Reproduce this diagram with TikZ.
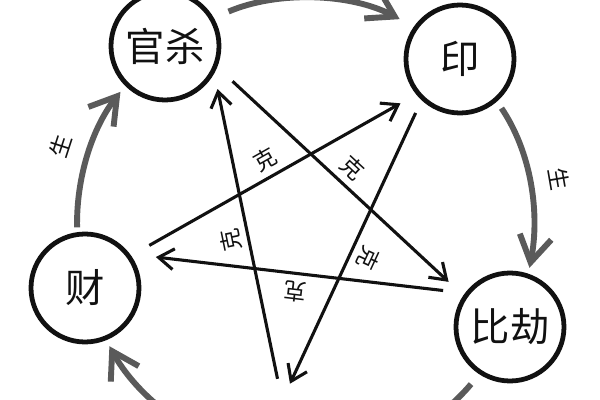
\documentclass[tikz,border=0pt]{standalone}
\usepackage{fontspec}
\usepackage{xcolor}
\usetikzlibrary{arrows.meta}
\newfontfamily\cjk{Noto Sans CJK SC}
\definecolor{ink}{HTML}{111111}
\definecolor{arcGray}{HTML}{5A5A5A}
\tikzset{
  element/.style={
    circle,
    draw=ink,
    line width=3.4pt,
    minimum size=27mm,
    inner sep=0pt,
    text=ink,
    font=\cjk\fontsize{28}{30}\selectfont
  },
  ke edge/.style={
    -{Straight Barb[length=3.8mm,width=5.2mm]},
    draw=ink,
    line width=2.2pt
  },
  sheng edge/.style={
    -{Straight Barb[length=6.5mm,width=8mm]},
    draw=arcGray,
    line width=4.2pt,
    looseness=0.9
  },
  ke label/.style={
    midway,
    sloped,
    allow upside down,
    above=1pt,
    text=ink,
    font=\cjk\fontsize{16}{16}\selectfont
  },
  sheng label/.style={
    midway,
    sloped,
    above=3mm,
    text=ink,
    font=\cjk\fontsize{16}{16}\selectfont
  }
}

\begin{document}
\begin{tikzpicture}[x=0.25mm,y=0.25mm]
  \useasboundingbox (0,0) rectangle (600,400);

  \node[element] (guansha) at (165,354) {官杀};
  \node[element] (yin) at (460,341) {印};
  \node[element] (bijie) at (510,73) {比劫};
  \node[element] (cai) at (85,112) {财};
  \node[element] (bottom) at (286,-57) {};

  \draw[sheng edge,shorten <=1.2mm,shorten >=1.9mm] (cai.98) to[out=91,in=232]
    node[sheng label] {生} (guansha.225);
  \draw[sheng edge,shorten <=4mm,shorten >=4mm] (guansha.30) to[out=23,in=152] (yin.145);
  \draw[sheng edge,shorten <=2mm,shorten >=1.5mm] (yin.-49) to[out=-56,in=79]
    node[sheng label] {生} (bijie.71);
  \draw[sheng edge,shorten <=3.2mm,shorten >=3mm] (bijie.-123) to[out=-130,in=9] (bottom.2);
  \draw[sheng edge,shorten <=3mm,shorten >=1.7mm] (bottom.168) to[out=161,in=-61] (cai.-68);

  \draw[ke edge,shorten <=5.2mm,shorten >=4.5mm] (cai.35) -- node[ke label] {克} (yin.219);
  \draw[ke edge,shorten <=5.5mm,shorten >=6.5mm] (bijie.143) -- node[ke label] {克} (cai.37);
  \draw[ke edge,shorten <=3.5mm,shorten >=4.7mm] (yin.227) -- node[ke label] {克} (bottom.94);
  \draw[ke edge,shorten <=5.6mm,shorten >=4mm] (bottom.94) -- node[ke label] {克} (guansha.-29);
  \draw[ke edge,shorten <=5.2mm,shorten >=5mm] (guansha.-22) -- node[ke label] {克} (bijie.146);
\end{tikzpicture}
\end{document}
